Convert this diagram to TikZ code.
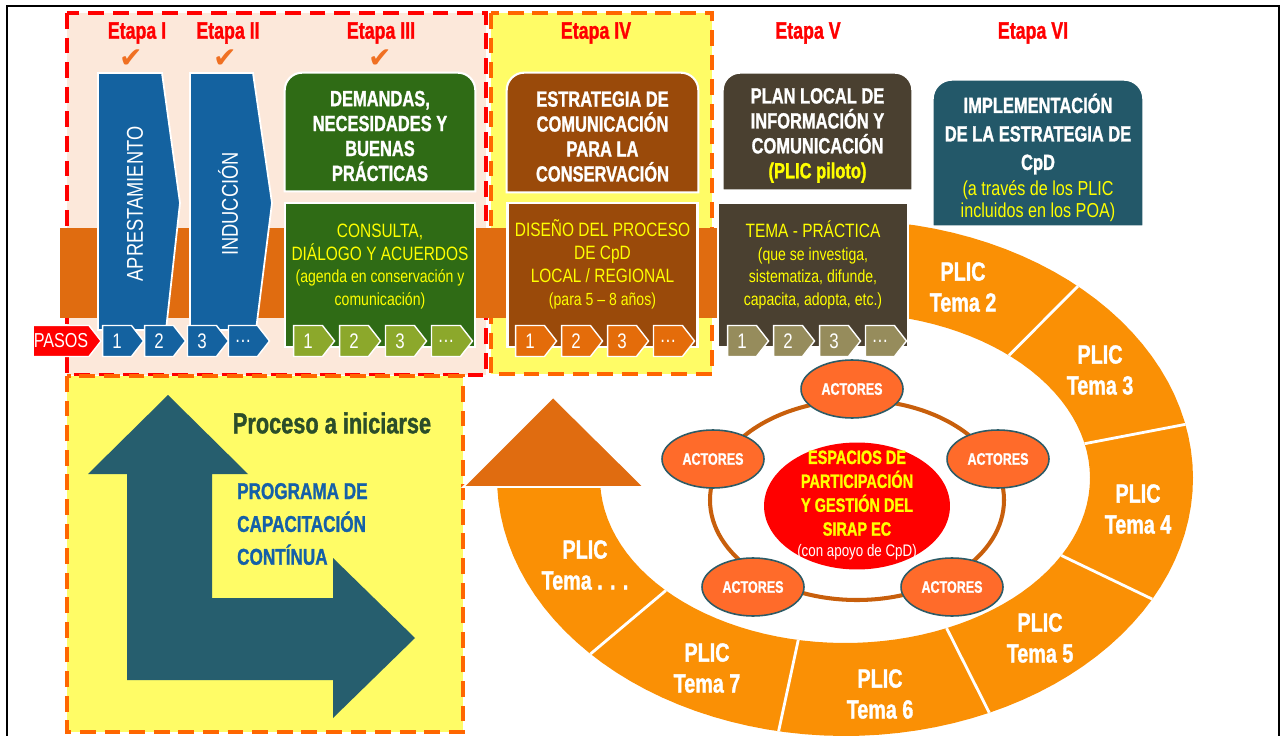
\documentclass[tikz,border=0pt]{standalone}
\usepackage{fontspec}
\setmainfont{Liberation Sans}
\newfontfamily\condfont{Liberation Sans}[FakeStretch=0.75, FakeBold=1.2]
\newfontfamily\narrowfont{Liberation Sans}[FakeStretch=0.8]
\newfontfamily\symfont{DejaVu Sans}
\usetikzlibrary{shapes.symbols,shapes.geometric,positioning}

\definecolor{peach}{HTML}{FCE8DA}
\definecolor{paleyellow}{HTML}{FFFC66}
\definecolor{dashred}{HTML}{FF0000}
\definecolor{dashorange}{HTML}{FF6600}
\definecolor{bandorange}{HTML}{E06C10}
\definecolor{chevblue}{HTML}{1462A0}
\definecolor{iiigreen}{HTML}{2F6B15}
\definecolor{iiistep}{HTML}{8CA82B}
\definecolor{ivbrown}{HTML}{9A4A0A}
\definecolor{ivstep}{HTML}{E46C0A}
\definecolor{volive}{HTML}{4A4030}
\definecolor{vstep}{HTML}{968C5C}
\definecolor{viteal}{HTML}{235869}
\definecolor{ringorange}{HTML}{FA9005}
\definecolor{circline}{HTML}{C85F0C}
\definecolor{actorfill}{HTML}{FF6B2A}
\definecolor{actorline}{HTML}{2D5B66}
\definecolor{txtyellow}{HTML}{FFFF00}
\definecolor{lteal}{HTML}{265E6E}
\definecolor{procgreen}{HTML}{2B4D2A}
\definecolor{progblue}{HTML}{1560A8}
\definecolor{checkorange}{HTML}{F07022}

\newcommand\smalltxt{\fontsize{10}{12}\selectfont}

\pgfdeclarelayer{back}
\pgfdeclarelayer{boxes}
\pgfsetlayers{back,boxes,main}

\begin{document}
\begin{tikzpicture}[x=0.02cm, y=-0.02cm, node distance=0.92cm,
    etapa/.style={text=dashred, font=\condfont\bfseries\fontsize{13.5}{13.5}\selectfont},
    donemark/.style={text=checkorange, font=\symfont\fontsize{16}{16}\selectfont},
    headbox/.style={inner sep=0pt},
    headtext/.style={inner sep=0pt, align=center, text=white, font=\condfont\bfseries\fontsize{12.5}{14.2}\selectfont},
    lowbox/.style={draw=white, line width=1.2pt, inner sep=0pt, minimum width=3.8cm, minimum height=2.88cm},
    bodytext/.style={align=center, text=txtyellow, font=\narrowfont\fontsize{11}{13}\selectfont},
    stepbox/.style={signal, signal to=east, signal pointer angle=104, draw=white, line width=0.8pt, inner sep=0pt, minimum width=0.82cm, minimum height=0.62cm, text=white, font=\narrowfont\fontsize{12}{12}\selectfont},
    actor/.style={ellipse, fill=actorfill, draw=actorline, line width=0.9pt, minimum width=2.04cm, minimum height=1.16cm, inner sep=0pt, text=white, font=\condfont\bfseries\fontsize{9.5}{10}\selectfont},
    plic/.style={align=center, text=white, font=\condfont\bfseries\fontsize{15}{17.6}\selectfont},
    dashbox/.style={line width=2.8pt, dash pattern=on 9pt off 5pt}]

  \useasboundingbox (0,0) rectangle (1284,736);

  % stage frames, band and ring
  \begin{pgfonlayer}{back}
    \fill[peach] (67,13) rectangle (486,375);
    \draw[dashbox, dashred] (67,13) rectangle (486,375);
    \fill[paleyellow] (491,13) rectangle (712,374);
    \draw[dashbox, dashorange] (491,13) rectangle (712,374);
    \fill[paleyellow] (67,376) rectangle (463,732);
    \draw[dashbox, dashorange] (67,376) rectangle (463,732);
    \fill[bandorange] (60,228) rectangle (718,318);
    \fill[ringorange] plot[domain=-100:178, samples=90] ({845+348*cos(\x)}, {478+258*sin(\x)})
      -- plot[domain=178:-100, samples=90] ({845+245*cos(\x)}, {478+165*sin(\x)}) -- cycle;
    \foreach \a in {-48,-12,28,65.5,101,137}
      \draw[white, line width=1.6pt] ({845+348*cos(\a)}, {478+258*sin(\a)}) -- ({845+245*cos(\a)}, {478+165*sin(\a)});
  \end{pgfonlayer}

  % stage labels
  \node[etapa] (e1) at (137,33) {Etapa I};
  \node[etapa] (e2) at (228,33) {Etapa II};
  \node[etapa] (e3) at (381,33) {Etapa III};
  \node[etapa] (e4) at (596,33) {Etapa IV};
  \node[etapa] (e5) at (808,33) {Etapa V};
  \node[etapa] (e6) at (1033,33) {Etapa VI};
  \node[donemark] (k1) at (131,59) {✔};
  \node[donemark] (k2) at (225,59) {✔};
  \node[donemark] (k3) at (380,59) {✔};

  % stages I and II
  \begin{pgfonlayer}{boxes}
    \draw[fill=chevblue, draw=white, line width=1pt] (98,73) -- (162,73) -- (180,203) -- (166,330) -- (98,330) -- cycle;
    \draw[fill=chevblue, draw=white, line width=1pt] (190,73) -- (253,73) -- (272,203) -- (256,330) -- (190,330) -- cycle;
  \end{pgfonlayer}
  \node[rotate=90, text=white, font=\narrowfont\fontsize{13}{13}\selectfont] (apr) at (135,204) {APRESTAMIENTO};
  \node[rotate=90, text=white, font=\narrowfont\fontsize{13}{13}\selectfont] (ind) at (228,204) {INDUCCIÓN};

  % stages III to VI
  \node[headbox, minimum width=3.8cm, minimum height=2.36cm] (h3) at (380,132) {};
  \node[headbox, minimum width=3.82cm, minimum height=2.38cm] (h4) at (602.5,132.5) {};
  \node[headbox, minimum width=3.78cm, minimum height=2.34cm] (h5) at (817.5,131.5) {};
  \node[headbox, minimum width=4.2cm, minimum height=2.92cm] (h6) at (1038,153) {};
  \begin{pgfonlayer}{boxes}
    \path[fill=iiigreen, draw=white, line width=1.2pt] (h3.south west) [rounded corners=10pt] -- (h3.north west) -- (h3.north east) [sharp corners] -- (h3.south east) -- cycle;
    \path[fill=ivbrown, draw=white, line width=1.2pt] (h4.south west) [rounded corners=10pt] -- (h4.north west) -- (h4.north east) [sharp corners] -- (h4.south east) -- cycle;
    \path[fill=volive, draw=white, line width=1.2pt] (h5.south west) [rounded corners=10pt] -- (h5.north west) -- (h5.north east) [sharp corners] -- (h5.south east) -- cycle;
    \path[fill=viteal, draw=white, line width=1.2pt] (h6.south west) [rounded corners=11pt] -- (h6.north west) -- (h6.north east) [sharp corners] -- (h6.south east) -- cycle;
  \end{pgfonlayer}
  \node[headtext] (h3t) at (380,136) {DEMANDAS,\\NECESIDADES Y\\BUENAS\\PRÁCTICAS};
  \node[headtext] (h4t) at (602.5,136.5) {ESTRATEGIA DE\\COMUNICACIÓN\\PARA LA\\CONSERVACIÓN};
  \node[headtext] (h5t) at (817.5,135.5) {PLAN LOCAL DE\\INFORMACIÓN Y\\COMUNICACIÓN\\\textcolor{txtyellow}{(PLIC piloto)}};
  \node[headtext, font=\condfont\bfseries\fontsize{12.5}{16.2}\selectfont] (h6t) at (1038,134) {IMPLEMENTACIÓN\\DE LA ESTRATEGIA DE\\CpD};
  \node[bodytext, font=\narrowfont\fontsize{11.5}{12.5}\selectfont] (h6s) at (1038,201) {(a través de los PLIC\\incluidos en los POA)};

  \node[lowbox, fill=iiigreen] (b3) at (380,275) {};
  \node[lowbox, fill=ivbrown] (b4) at (602.5,275) {};
  \node[lowbox, fill=volive] (b5) at (813,275) {};
  \node[bodytext] (t3) at (380,266.5) {CONSULTA,\\DIÁLOGO Y ACUERDOS\\\smalltxt (agenda en conservación y\\\smalltxt comunicación)};
  \node[bodytext] (t4) at (602.5,264.5) {DISEÑO DEL PROCESO\\DE CpD\\LOCAL / REGIONAL\\\smalltxt (para 5 – 8 años)};
  \node[bodytext] (t5) at (813,265) {TEMA - PRÁCTICA\\\smalltxt (que se investiga,\\\smalltxt sistematiza, difunde,\\\smalltxt capacita, adopta, etc.)};

  % steps
  \node[stepbox, fill=dashred, minimum width=1.36cm, font=\narrowfont\fontsize{11.5}{12}\selectfont] (pasos) at (61,341) {PASOS};
  \node[stepbox, fill=chevblue] (s11) at (117,341) {1};
  \node[stepbox, fill=chevblue, right of=s11, node distance=0.84cm] (s12) {2};
  \node[stepbox, fill=chevblue, right of=s12, node distance=0.86cm] (s13) {3};
  \node[stepbox, fill=chevblue, right of=s13, node distance=0.82cm] (s14) {\dots};
  \node[stepbox, fill=iiistep] (s31) at (308,341) {1};
  \node[stepbox, fill=iiistep, right of=s31] (s32) {2};
  \node[stepbox, fill=iiistep, right of=s32] (s33) {3};
  \node[stepbox, fill=iiistep, right of=s33] (s34) {\dots};
  \node[stepbox, fill=ivstep] (s41) at (530,341) {1};
  \node[stepbox, fill=ivstep, right of=s41] (s42) {2};
  \node[stepbox, fill=ivstep, right of=s42] (s43) {3};
  \node[stepbox, fill=ivstep, right of=s43] (s44) {\dots};
  \node[stepbox, fill=vstep] (s51) at (742,341) {1};
  \node[stepbox, fill=vstep, right of=s51] (s52) {2};
  \node[stepbox, fill=vstep, right of=s52] (s53) {3};
  \node[stepbox, fill=vstep, right of=s53] (s54) {\dots};

  % PLIC ring labels
  \node[plic] (p2) at (963,287) {PLIC\\Tema 2};
  \node[plic] (p3) at (1100,370) {PLIC\\Tema 3};
  \node[plic] (p4) at (1138,509) {PLIC\\Tema 4};
  \node[plic] (p5) at (1040,638) {PLIC\\Tema 5};
  \node[plic] (p6) at (880,694) {PLIC\\Tema 6};
  \node[plic] (p7) at (707,668) {PLIC\\Tema 7};
  \node[plic] (pn) at (585,565) {PLIC\\Tema . . .};

  % participation spaces
  \begin{pgfonlayer}{boxes}
    \draw[circline, line width=2.3pt] (857,500) ellipse [x radius=147, y radius=100];
    \draw[fill=bandorange, draw=white, line width=1pt] (463,487) -- (553,397) -- (644,487) -- cycle;
    \fill[lteal] (168,395) -- (248,474) -- (212,474) -- (212,598) -- (333,598) -- (333,558) -- (415,638)
      -- (333,718) -- (333,680) -- (127,680) -- (127,474) -- (88,474) -- cycle;
  \end{pgfonlayer}
  \node[ellipse, fill=dashred, minimum width=3.72cm, minimum height=2.54cm] (sirap) at (857,506) {};
  \node[align=center, text=txtyellow, font=\condfont\bfseries\fontsize{11}{13.6}\selectfont] (sirapt) at (857,505)
    {ESPACIOS DE\\PARTICIPACIÓN\\Y GESTIÓN DEL\\SIRAP EC\\[-2pt]\narrowfont\mdseries\fontsize{9.5}{10}\selectfont\color{white}(con apoyo de CpD)};
  \node[actor] (a1) at (852,389) {ACTORES};
  \node[actor] (a2) at (713,459) {ACTORES};
  \node[actor] (a3) at (998,459) {ACTORES};
  \node[actor] (a4) at (753,587) {ACTORES};
  \node[actor] (a5) at (952,587) {ACTORES};

  % process to start
  \node[text=procgreen, font=\condfont\bfseries\fontsize{16.5}{16.5}\selectfont] (proc) at (332,423) {Proceso a iniciarse};
  \node[anchor=west, align=left, text=progblue, font=\condfont\bfseries\fontsize{13}{18.7}\selectfont] (prog) at (231,524) {PROGRAMA DE\\CAPACITACIÓN\\CONTÍNUA};

  \draw[line width=1.1pt] (7,736) -- (7,6) -- (1279,6) -- (1279,736);
\end{tikzpicture}
\end{document}
